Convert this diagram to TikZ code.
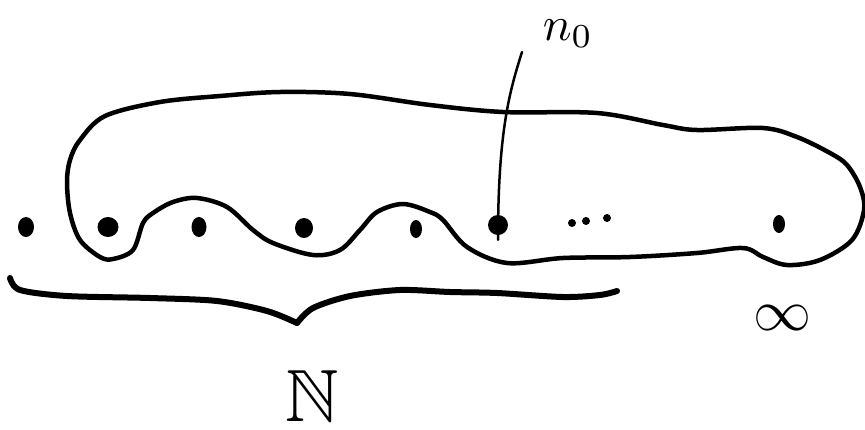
\documentclass[tikz,border=0pt]{standalone}
\usepackage{amssymb}
\usetikzlibrary{shapes.geometric}
\tikzset{
  sketch line/.style={draw=black, line width=4.5pt, line cap=round, line join=round},
  seqdot/.style={ellipse, fill=black, inner sep=0pt, minimum width=16pt, minimum height=20pt},
  small dot/.style={circle, fill=black, inner sep=0pt, minimum size=8pt},
  hand label/.style={text=black, inner sep=0pt},
}

\begin{document}
\begin{tikzpicture}[x=1pt, y=-1pt]
  \useasboundingbox (0,0) rectangle (865,429);

  % The sequence of points
  \node[seqdot] (d1) at (26,227) {};
  \node[seqdot, minimum width=21pt] (d2) at (108,227) {};
  \node[seqdot, minimum width=15pt] (d3) at (199,227) {};
  \node[seqdot, minimum width=18pt] (d4) at (304,228) {};
  \node[seqdot, minimum width=12pt, minimum height=18pt] (d5) at (416,229) {};
  \node[seqdot, minimum width=20pt] (d6) at (498,225) {};
  \node[small dot] (e1) at (572,223) {};
  \node[small dot] (e2) at (586,221) {};
  \node[small dot] (e3) at (607,218) {};
  \node[seqdot, minimum width=12pt, minimum height=18pt] (d7) at (779,224) {};

  % Outline around the tail of the sequence
  \draw[sketch line] plot[smooth cycle, tension=0.55] coordinates {
    (80,140) (105,116) (160,102) (220,96) (280,92) (350,94) (430,105)
    (503,112) (597,113) (663,125) (697,130) (763,128) (797,137) (830,153)
    (847,165) (860,187) (864,210) (852,240) (820,260) (787,265) (763,257)
    (743,248) (697,253) (630,257) (563,258) (507,263) (467,247) (443,220)
    (430,212) (403,204) (377,212) (360,230) (340,250) (313,255) (273,243)
    (253,230) (227,207) (197,198) (173,202) (153,213) (143,223) (133,250)
    (113,259) (100,257) (80,240) (70,213) (67,182) (70,160)};

  % Brace under the naturals
  \draw[sketch line, line width=6pt] plot[smooth, tension=0.5] coordinates {
    (10,278) (20,290) (67,296) (150,298) (217,301) (267,311) (297,323)};
  \draw[sketch line, line width=6pt] plot[smooth, tension=0.5] coordinates {
    (297,323) (313,308) (350,296) (400,290) (450,292) (497,293) (563,297)
    (600,295) (617,291)};

  % Labels
  \node[hand label, scale=4.8] (n0) at (568,34) {$n_0$};
  \node[hand label, scale=5.8] (inf) at (782,318) {$\infty$};
  \node[hand label, scale=7.4] (nat) at (312,396) {$\mathbb{N}$};

  % Pointer from n_0 down to its point
  \coordinate (ptrtop) at (522,52);
  \coordinate (ptrbot) at ([yshift=-25pt]d6.north);
  \draw[line width=2.5pt, line cap=round] (ptrtop) .. controls (510,90) and (498,130) .. (ptrbot);
\end{tikzpicture}
\end{document}
